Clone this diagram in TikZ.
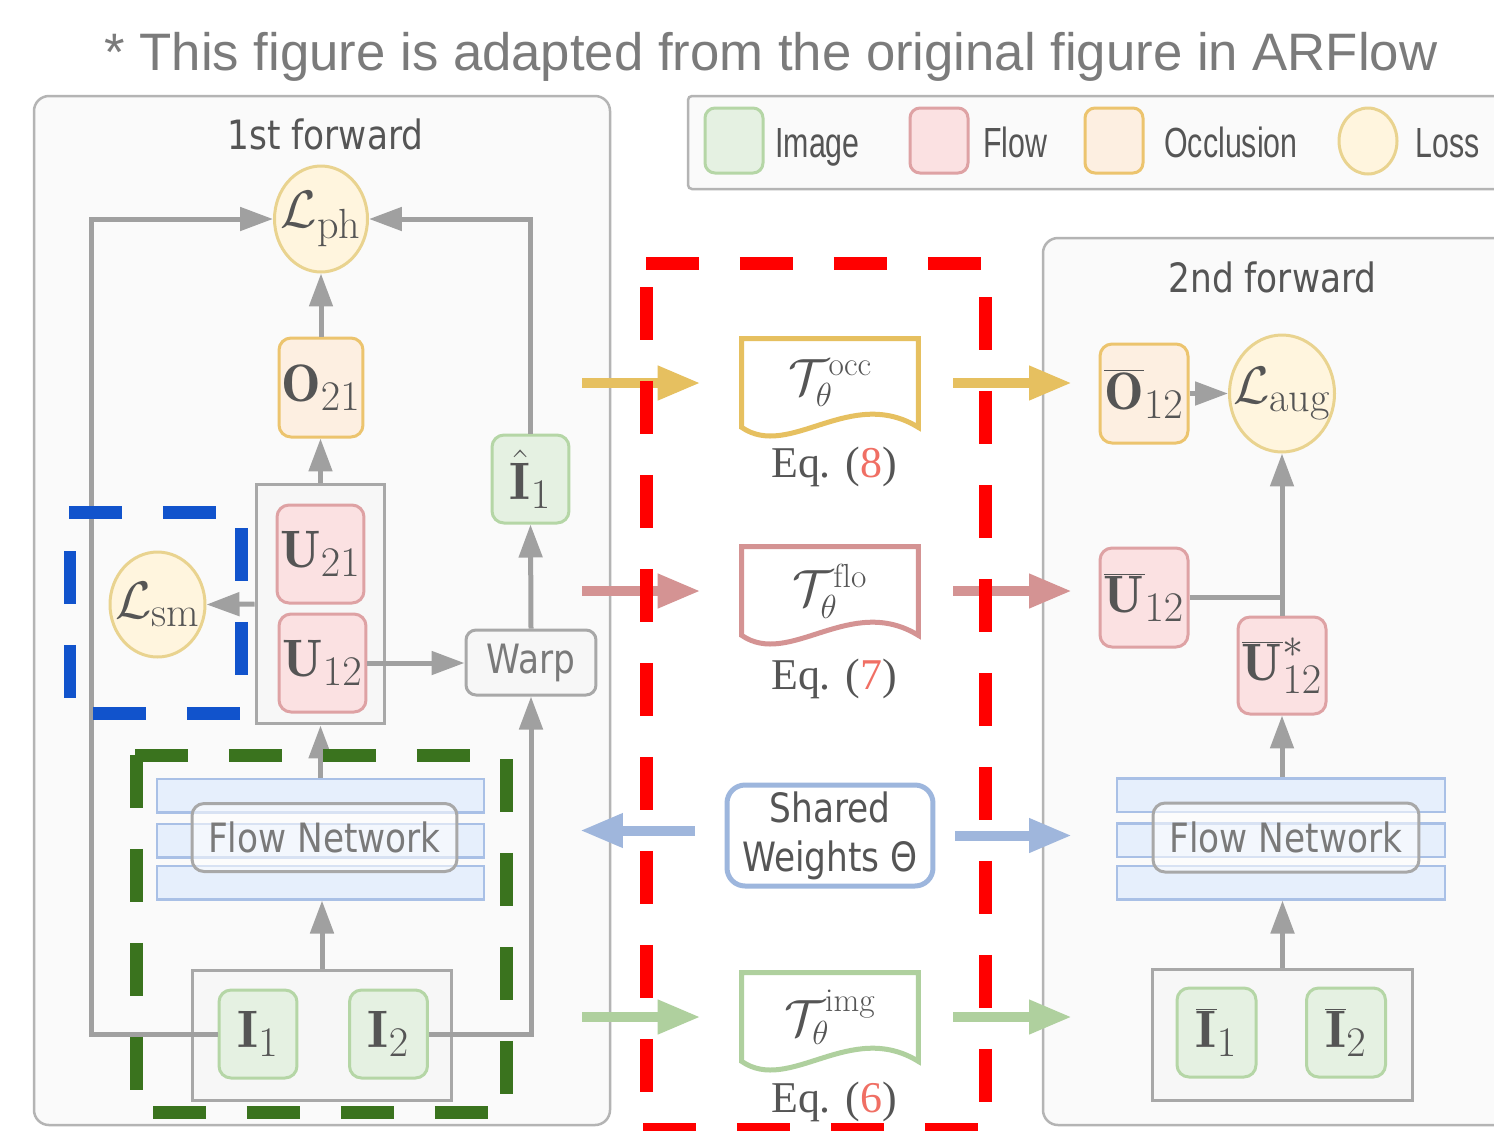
\RequirePackage{fix-cm}
\documentclass[tikz,border=0pt]{standalone}
\usepackage{fontspec}
\usetikzlibrary{arrows.meta,shapes.geometric,calc}
\newfontfamily\titlefont{Liberation Sans}
\newfontfamily\legfont[FakeStretch=0.72]{Liberation Sans}
\newfontfamily\boxfont[FakeStretch=0.85]{DejaVu Sans}
\newfontfamily\eqfont{Liberation Serif}
\DeclareMathSizes{30}{30}{24}{18}
\DeclareMathSizes{29}{29}{19}{15}
\newcommand\symsize{\fontsize{30}{34}\selectfont}
\newcommand\docsize{\fontsize{29}{33}\selectfont}

\definecolor{txt}{HTML}{555555}
\definecolor{fntxt}{HTML}{7A7A7A}
\definecolor{titleC}{HTML}{7B7B7B}
\definecolor{lineg}{HTML}{A0A0A0}
\definecolor{panS}{HTML}{B4B4B4}
\definecolor{panF}{HTML}{FAFAFA}
\definecolor{grpS}{HTML}{A8A8A8}
\definecolor{grpF}{HTML}{F7F7F7}
\definecolor{imgS}{HTML}{B5D6A6}
\definecolor{imgF}{HTML}{E5F1E2}
\definecolor{floS}{HTML}{DEA2A4}
\definecolor{floF}{HTML}{FBE1E2}
\definecolor{occS}{HTML}{ECC46E}
\definecolor{occF}{HTML}{FDEFE1}
\definecolor{lossS}{HTML}{E9D38F}
\definecolor{lossF}{HTML}{FFF5DE}
\definecolor{barS}{HTML}{A9C0E6}
\definecolor{barF}{HTML}{E6EFFC}
\definecolor{swS}{HTML}{9DB6DD}
\definecolor{yel}{HTML}{E6C060}
\definecolor{pnk}{HTML}{D49393}
\definecolor{blu}{HTML}{9FB6DC}
\definecolor{grn}{HTML}{AFD09E}
\definecolor{eqred}{HTML}{F06F64}
\definecolor{hlred}{HTML}{FF0000}
\definecolor{hlgrn}{HTML}{3A731E}
\definecolor{hlblu}{HTML}{1153CC}

\begin{document}
\begin{tikzpicture}[x=0.02cm,y=-0.02cm,
  mbox/.style={rounded corners=0.24cm, line width=0.6mm, inner sep=0pt, font=\symsize, text=txt},
  imgbox/.style={mbox, draw=imgS, fill=imgF},
  flobox/.style={mbox, draw=floS, fill=floF},
  occbox/.style={mbox, draw=occS, fill=occF},
  lossnode/.style={ellipse, draw=lossS, fill=lossF, line width=0.6mm, inner sep=0pt},
  losstext/.style={label={[font=\symsize, text=txt, inner sep=0pt]center:#1}},
  grpbox/.style={draw=grpS, fill=grpF, line width=0.6mm, inner sep=0pt},
  netbar/.style={draw=barS, fill=barF, line width=0.5mm, minimum width=6.55cm, minimum height=0.67cm, inner sep=0pt},
  fnlabel/.style={draw=grpS, fill=white, fill opacity=0.55, text opacity=1, rounded corners=0.24cm,
    line width=0.6mm, font=\boxfont\fontsize{23}{28}\selectfont, text=fntxt, inner sep=0pt,
    minimum width=5.3cm, minimum height=1.36cm},
  panel/.style={draw=panS, fill=panF, line width=0.5mm, rounded corners=0.3cm},
  garrow/.style={draw=lineg, line width=1mm, -{Triangle[length=6.6mm,width=4.6mm]}},
  gline/.style={draw=lineg, line width=1mm},
  carrow/.style={line width=2mm, -{Triangle[length=8.6mm,width=6.4mm]}},
  docnode/.style={minimum width=3.52cm, minimum height=1.76cm, inner sep=0pt, font=\docsize, text=txt},
  docline/.style={line width=1mm},
  eqlabel/.style={font=\eqfont\fontsize{25}{30}\selectfont, text=txt, inner sep=0pt, anchor=base},
  headtext/.style={font=\boxfont\fontsize{23}{28}\selectfont, text=txt, inner sep=0pt, anchor=base},
  legtext/.style={font=\legfont\fontsize{24}{28}\selectfont, text=txt, inner sep=0pt, anchor=base west},
  hl/.style={line width=2.6mm, dash pattern=on 10.6mm off 8.2mm}
]
\useasboundingbox (0,0) rectangle (1494,1130);
\clip (0,0) rectangle (1494,1130);
\fill[white] (0,0) rectangle (1494,1130);

% caption line
\node[font=\titlefont\fontsize{30}{36}\selectfont, text=titleC, inner sep=0pt, anchor=base] (title) at (771,70)
  {* This figure is adapted from the original figure in ARFlow};

% panels and legend frame
\path[panel] (34,96) rectangle (610,1125);
\path[panel] (1043,238) rectangle (1560,1125);
\path[draw=panS, fill=panF, line width=0.5mm, rounded corners=0.08cm] (688,96) rectangle (1560,189);

% legend
\node[imgbox, minimum width=1.16cm, minimum height=1.3cm, rounded corners=0.2cm] (gI) at (734,140.5) {};
\node[legtext] (lI) at (775,157) {Image};
\node[flobox, minimum width=1.16cm, minimum height=1.3cm, rounded corners=0.2cm] (gF) at (939,140.5) {};
\node[legtext] (lF) at (983,157) {Flow};
\node[occbox, minimum width=1.16cm, minimum height=1.3cm, rounded corners=0.2cm] (gO) at (1114,140.5) {};
\node[legtext] (lO) at (1164,157) {Occlusion};
\node[lossnode, minimum width=1.16cm, minimum height=1.32cm] (gL) at (1368,141) {};
\node[legtext] (lL) at (1415,157) {Loss};

% ---------- 1st forward ----------
\node[headtext] (h1) at (325.5,149) {1st forward};
\node[lossnode, minimum width=1.86cm, minimum height=2.12cm, losstext={$\mathcal{L}_{\mathrm{ph}}$}] (Lph) at (321,219) {};
\node[occbox, minimum width=1.68cm, minimum height=1.98cm] (O21) at (321,387.5) {$\mathbf{O}_{21}$};
\node[grpbox, minimum width=2.58cm, minimum height=4.8cm] (Ubox) at (320.5,604) {};
\node[flobox, minimum width=1.74cm, minimum height=1.96cm] (U21) at (320.5,554) {$\mathbf{U}_{21}$};
\node[flobox, minimum width=1.74cm, minimum height=1.96cm] (U12) at (322.5,663) {$\mathbf{U}_{12}$};
\node[lossnode, minimum width=1.9cm, minimum height=2.1cm, losstext={$\mathcal{L}_{\mathrm{sm}}$}] (Lsm) at (157.5,604.5) {};
\node[imgbox, minimum width=1.54cm, minimum height=1.76cm] (Ih) at (530.5,479) {$\hat{\mathbf{I}}_{1}$};
\node[grpbox, rounded corners=0.2cm, minimum width=2.6cm, minimum height=1.3cm,
      font=\boxfont\fontsize{23}{28}\selectfont, text=fntxt] (Warp) at (531,662.5) {Warp};
\node[netbar] (fbA) at (320.5,795.5) {};
\node[netbar] (fbB) at (320.5,840.5) {};
\node[netbar] (fbC) at (320.5,882.5) {};
\node[fnlabel] (fn1) at (324.5,837.5) {Flow Network};
\node[grpbox, minimum width=5.2cm, minimum height=2.6cm] (Ibox) at (322,1035) {};
\node[imgbox, minimum width=1.56cm, minimum height=1.76cm] (I1) at (258,1034) {$\mathbf{I}_{1}$};
\node[imgbox, minimum width=1.56cm, minimum height=1.76cm] (I2) at (388.5,1034) {$\mathbf{I}_{2}$};

\coordinate (lft) at (91,0);
\draw[garrow] (I1.west) -- (I1.west -| lft) |- (Lph.west);
\draw[garrow] (I2.east) -| (Warp.south);
\draw[garrow] (Warp.north) -- (Ih.south);
\draw[garrow] (Ih.north) |- (Lph.east);
\draw[garrow] (O21.north) -- (Lph.south);
\draw[garrow] (Ubox.north) -- (Ubox.north |- O21.south);
\draw[garrow] (Ubox.west) -- (Lsm.east);
\draw[garrow] (U12.east) -- (U12.east -| Warp.west);
\draw[garrow] (Ibox.north) -- (Ibox.north |- fbC.south);
\draw[garrow] (fbA.north) -- (fbA.north |- Ubox.south);

% ---------- 2nd forward ----------
\node[headtext] (h2) at (1272.5,292) {2nd forward};
\node[occbox, minimum width=1.76cm, minimum height=1.98cm] (Ob) at (1144,393.5) {$\overline{\mathbf{O}}_{12}$};
\node[lossnode, minimum width=2.1cm, minimum height=2.34cm, losstext={$\mathcal{L}_{\mathrm{aug}}$}] (Laug) at (1282,393.5) {};
\node[flobox, minimum width=1.76cm, minimum height=1.98cm] (Ub) at (1144,597.5) {$\overline{\mathbf{U}}_{12}$};
\node[flobox, minimum width=1.76cm, minimum height=1.94cm] (Us) at (1282,665.5) {$\overline{\mathbf{U}}^{*}_{12}$};
\node[netbar, minimum width=6.56cm] (fbRA) at (1281,795) {};
\node[netbar, minimum width=6.56cm] (fbRB) at (1281,840) {};
\node[netbar, minimum width=6.56cm] (fbRC) at (1281,882.5) {};
\node[fnlabel, minimum width=5.32cm, minimum height=1.38cm] (fn2) at (1286,837.5) {Flow Network};
\node[grpbox, minimum width=5.22cm, minimum height=2.62cm] (IboxR) at (1282.5,1034.5) {};
\node[imgbox, minimum width=1.58cm, minimum height=1.78cm] (I1b) at (1216.5,1032.5) {$\overline{\mathbf{I}}_{1}$};
\node[imgbox, minimum width=1.58cm, minimum height=1.78cm] (I2b) at (1346,1032.5) {$\overline{\mathbf{I}}_{2}$};

\draw[garrow] (Ob.east) -- (Laug.west);
\draw[gline] (Ub.east) -- (Ub.east -| Us.north);
\draw[garrow] (Us.north) -- (Us.north |- Laug.south);
\draw[garrow] (fbRA.north -| Us.south) -- (Us.south);
\draw[garrow] (IboxR.north) -- (IboxR.north |- fbRC.south);

% ---------- transformations ----------
\node[docnode] (Tocc) at (830,383) {$\mathcal{T}_{\theta}^{\mathrm{occ}}$};
\node[docnode] (Tflo) at (830,591) {$\mathcal{T}_{\theta}^{\mathrm{flo}}$};
\node[docnode] (Timg) at (830,1017) {$\mathcal{T}_{\theta}^{\mathrm{img}}$};
\foreach \t/\c in {Tocc/yel, Tflo/pnk, Timg/grn}{
  \draw[docline, draw=\c] (\t.north west) -- (\t.north east) -- (\t.south east)
    .. controls ($(\t.south east)+(-68,-42)$) and ($(\t.south west)+(48,33)$) .. (\t.south west) -- cycle;
}
\node[eqlabel] (e8) at (834,477) {Eq. (\textcolor{eqred}{8})};
\node[eqlabel] (e7) at (834,689) {Eq. (\textcolor{eqred}{7})};
\node[eqlabel] (e6) at (834,1112) {Eq. (\textcolor{eqred}{6})};

\node[draw=swS, line width=1mm, rounded corners=0.36cm, minimum width=4.12cm, minimum height=2.02cm,
      align=center, inner sep=0pt, font=\boxfont\fontsize{23}{27.8}\selectfont, text=txt] (SW) at (830,835.5)
  {Shared\\Weights Θ};

\coordinate (ltail) at (582,0);
\coordinate (rtip) at (1072,0);
\draw[carrow, draw=yel, fill=yel, shorten >=0.82cm] (ltail |- Tocc) -- (Tocc.west);
\draw[carrow, draw=pnk, fill=pnk, shorten >=0.82cm] (ltail |- Tflo) -- (Tflo.west);
\draw[carrow, draw=grn, fill=grn, shorten >=0.82cm] (ltail |- Timg) -- (Timg.west);
\draw[carrow, draw=blu, fill=blu, shorten <=0.6cm] ($(SW.west)+(0,-5)$) -- ($(ltail |- SW.west)+(-2,-5)$);
\draw[carrow, draw=yel, fill=yel, shorten <=0.7cm] (Tocc.east) -- (Tocc.east -| rtip);
\draw[carrow, draw=pnk, fill=pnk, shorten <=0.7cm] (Tflo.east) -- (Tflo.east -| rtip);
\draw[carrow, draw=grn, fill=grn, shorten <=0.7cm] (Timg.east) -- (Timg.east -| rtip);
\draw[carrow, draw=blu, fill=blu, shorten <=0.4cm] (SW.east) -- (SW.east -| rtip);

% ---------- dashed highlights ----------
\draw[hl, draw=hlred] (646,263) -- (990,263);
\draw[hl, draw=hlred] (646,287) -- (646,1140);
\draw[hl, draw=hlred] (985,297) -- (985,1140);
\draw[hl, draw=hlred] (643,1129) -- (985,1129);

\draw[hl, draw=hlgrn] (135,755) -- (505,755);
\draw[hl, draw=hlgrn] (136,755) -- (136,1120);
\draw[hl, draw=hlgrn] (506,759) -- (506,1110);
\draw[hl, draw=hlgrn] (153,1112) -- (500,1112);

\draw[hl, draw=hlblu] (69,512) -- (235,512);
\draw[hl, draw=hlblu] (70,551) -- (70,710);
\draw[hl, draw=hlblu] (241,528) -- (241,690);
\draw[hl, draw=hlblu] (93,713) -- (245,713);
\end{tikzpicture}
\end{document}
